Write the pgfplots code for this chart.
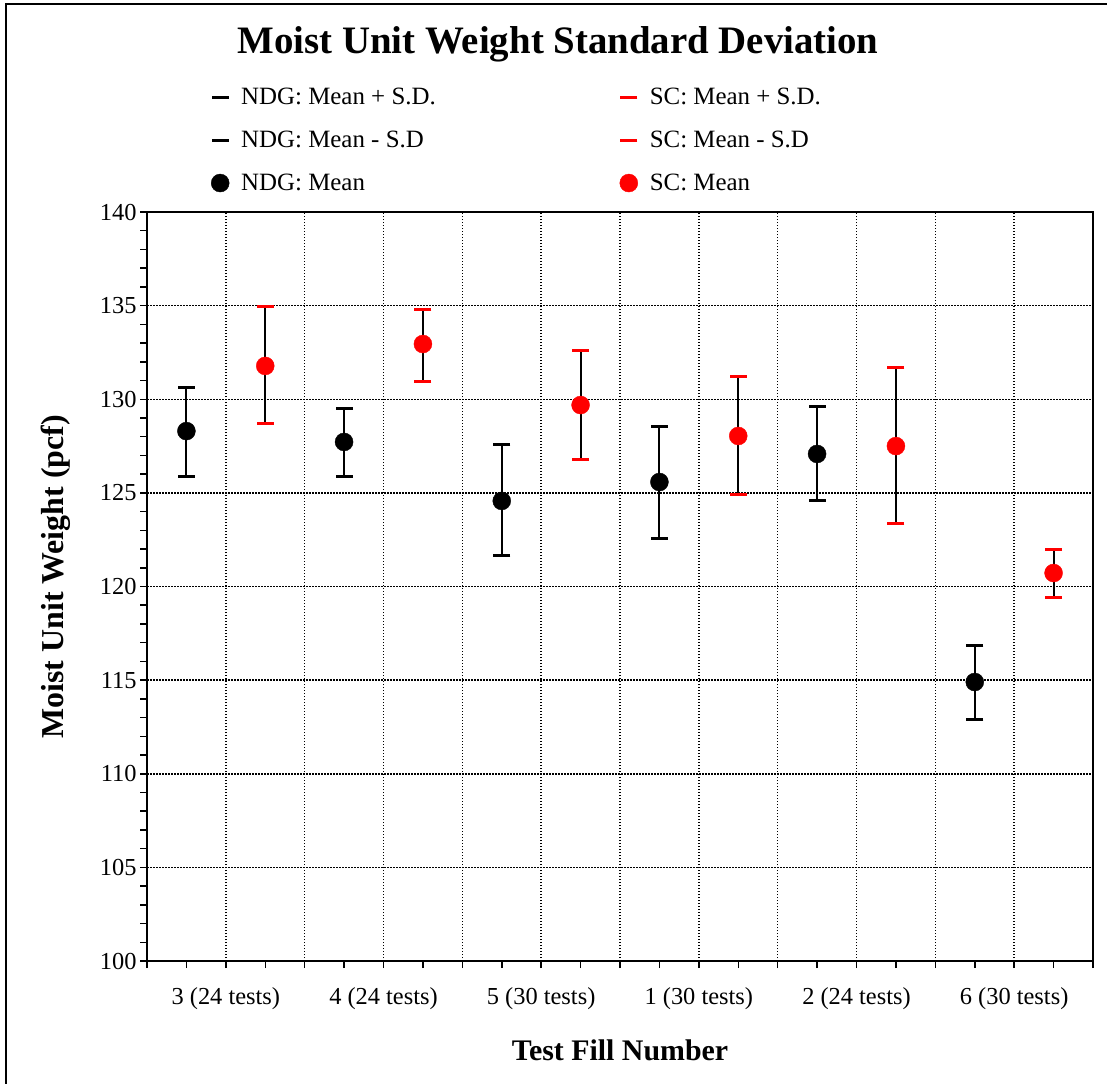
\documentclass[border=0pt]{standalone}
\usepackage{pgfplots}
\pgfplotsset{compat=1.18}
\usepackage{pgfplotstable}
\usepackage{fontspec}
\setmainfont{Liberation Serif}

% x = position inside the category band, mean / mean+sd / mean-sd
\pgfplotstableread{
x    mean   up     lo
0.25 128.30 130.65 125.90
1.25 127.72 129.53 125.90
2.25 124.57 127.61 121.63
3.25 125.58 128.57 122.59
4.25 127.08 129.59 124.57
5.25 114.90 116.85 112.92
}\ndg
\pgfplotstableread{
x    mean   up     lo
0.75 131.78 134.93 128.68
1.75 132.95 134.77 130.97
2.75 129.69 132.58 126.76
3.75 128.04 131.24 124.89
4.75 127.50 131.72 123.34
5.75 120.72 121.95 119.39
}\sc

\begin{document}
\begin{tikzpicture}
\useasboundingbox (0bp,0bp) rectangle (1107bp,-1084bp);
\draw[line width=2.5bp] (6bp,-1084bp) -- (6bp,-4bp) -- (1107bp,-4bp);
\node[font=\bfseries\fontsize{39}{44}\selectfont] at (558bp,-44bp) {Moist Unit Weight Standard Deviation};
\begin{axis}[
  at={(147bp,-961bp)}, anchor=south west,
  scale only axis, width=946bp, height=749bp,
  xmin=0, xmax=6, ymin=100, ymax=140,
  xtick={0,0.5,...,6},
  xticklabels={,3 (24 tests),,4 (24 tests),,5 (30 tests),,1 (30 tests),,2 (24 tests),,6 (30 tests),},
  minor x tick num=1,
  ytick={100,105,...,140},
  minor y tick num=4,
  xtick pos=lower, ytick pos=left,
  tick align=outside,
  major tick length=7bp, minor tick length=7bp,
  tick style={black, line width=1.5bp},
  xmajorgrids, ymajorgrids,
  grid style={black, line width=1.5bp, dash pattern=on 1.5bp off 1.5bp},
  axis line style={line width=1.8bp},
  /pgf/number format/assume math mode=true,
  ticklabel style={font=\fontsize{24.5}{28}\selectfont},
  xticklabel style={yshift=-16bp},
  xlabel={Test Fill Number},
  ylabel={Moist Unit Weight (pcf)},
  xlabel style={font=\bfseries\fontsize{30}{34}\selectfont, at={(axis description cs:0.5,-0.119)}, anchor=center},
  ylabel style={font=\bfseries\fontsize{32}{36}\selectfont, at={(axis description cs:-0.096,0.513)}, anchor=center},
  legend columns=2,
  legend cell align=left,
  legend style={draw=none, fill=none, font=\fontsize{25}{28}\selectfont,
    at={(axis description cs:0.0645,1.171)}, anchor=north west,
    row sep=21bp,
    /tikz/column 1/.style={column sep=10bp},
    /tikz/column 2/.style={column sep=182bp},
    /tikz/column 3/.style={column sep=10bp}},
]
% vertical S.D. lines
\addplot[forget plot, draw=none, only marks, mark=none,
  error bars/.cd, y dir=both, y explicit, error mark=none,
  error bar style={line width=2bp, black}]
  table[x=x, y=mean, y error plus expr=\thisrow{up}-\thisrow{mean}, y error minus expr=\thisrow{mean}-\thisrow{lo}] {\ndg};
\addplot[forget plot, draw=none, only marks, mark=none,
  error bars/.cd, y dir=both, y explicit, error mark=none,
  error bar style={line width=2bp, black}]
  table[x=x, y=mean, y error plus expr=\thisrow{up}-\thisrow{mean}, y error minus expr=\thisrow{mean}-\thisrow{lo}] {\sc};

\addplot[only marks, black, mark=-, mark size=8.5bp, mark options={line width=3bp}] table[x=x, y=up] {\ndg};
\addlegendentry{NDG: Mean + S.D.}
\addplot[only marks, red, mark=-, mark size=8.5bp, mark options={line width=3bp}] table[x=x, y=up] {\sc};
\addlegendentry{SC: Mean + S.D.}
\addplot[only marks, black, mark=-, mark size=8.5bp, mark options={line width=3bp}] table[x=x, y=lo] {\ndg};
\addlegendentry{NDG: Mean - S.D}
\addplot[only marks, red, mark=-, mark size=8.5bp, mark options={line width=3bp}] table[x=x, y=lo] {\sc};
\addlegendentry{SC: Mean - S.D}
\addplot[only marks, black, mark=*, mark size=9bp] table[x=x, y=mean] {\ndg};
\addlegendentry{NDG: Mean}
\addplot[only marks, red, mark=*, mark size=9bp, mark options={draw=red, fill=red}] table[x=x, y=mean] {\sc};
\addlegendentry{SC: Mean}
\end{axis}
\end{tikzpicture}
\end{document}
